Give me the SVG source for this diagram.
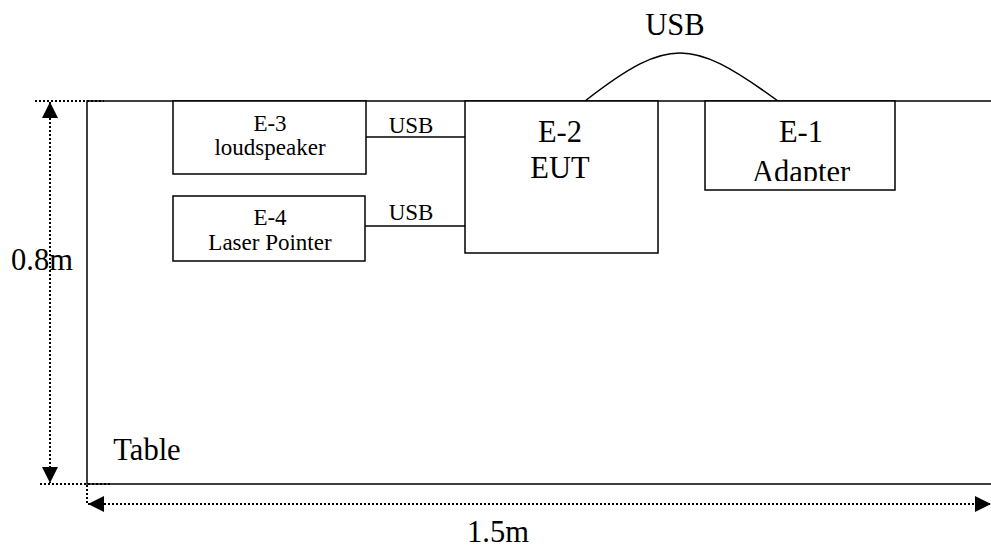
<svg xmlns="http://www.w3.org/2000/svg" width="991" height="549" viewBox="0 0 991 549">
<style>
.box{fill:#fff;stroke:#000;stroke-width:1.5}
.ln{fill:none;stroke:#000;stroke-width:1.5}
.dot{fill:none;stroke:#000;stroke-width:2;stroke-dasharray:2 2}
text{font-family:'Liberation Serif','Times New Roman','DejaVu Serif',serif;fill:#000;text-anchor:middle}
.s{font-size:23px}
.l{font-size:30.5px}
</style>
<defs>
<marker id="ah" viewBox="0 0 10 10" refX="10" refY="5" markerWidth="16" markerHeight="16" markerUnits="userSpaceOnUse" orient="auto-start-reverse">
<path d="M0,0 L10,5 L0,10 Z" fill="#000"/>
</marker>
<clipPath id="c1"><rect x="705" y="101" width="190" height="80"/></clipPath>
</defs>
<g id="table">
<path class="ln" d="M991,101 H87 V484 H991"/>
<text x="147" y="460" class="l">Table</text>
</g>
<g id="dimensions">
<line class="dot" x1="35" y1="101" x2="104" y2="101"/>
<line class="dot" x1="40" y1="484" x2="110" y2="484"/>
<line class="dot" x1="50" y1="102" x2="50" y2="483" marker-start="url(#ah)" marker-end="url(#ah)"/>
<line class="dot" x1="87" y1="485" x2="87" y2="504"/>
<line class="dot" x1="88" y1="504" x2="991" y2="504" marker-start="url(#ah)" marker-end="url(#ah)"/>
<text x="42" y="270" class="l">0.8m</text>
<text x="498" y="542" class="l">1.5m</text>
</g>
<g id="connectors">
<line class="ln" x1="366" y1="137" x2="465" y2="137"/>
<line class="ln" x1="365" y1="226" x2="465" y2="226"/>
<path class="ln" d="M585,101 C630,66 655,53 680,53 C705,53 730,66 778,101"/>
<text x="411" y="133" class="s">USB</text>
<text x="411" y="220" class="s">USB</text>
<text x="675" y="35" class="l">USB</text>
</g>
<g id="E-3">
<rect class="box" x="173" y="101" width="193" height="73"/>
<text x="270" y="131" class="s">E-3</text>
<text x="270" y="155" class="s">loudspeaker</text>
</g>
<g id="E-4">
<rect class="box" x="173" y="196" width="192" height="65"/>
<text x="270" y="225" class="s">E-4</text>
<text x="270" y="250" class="s">Laser Pointer</text>
</g>
<g id="E-2">
<rect class="box" x="465" y="101" width="193" height="152"/>
<text x="560" y="142" class="l">E-2</text>
<text x="560" y="178" class="l">EUT</text>
</g>
<g id="E-1">
<rect class="box" x="705" y="101" width="190" height="89"/>
<text x="801" y="142" class="l">E-1</text>
<text x="801" y="182" class="l" clip-path="url(#c1)">Adapter</text>
</g>
</svg>
